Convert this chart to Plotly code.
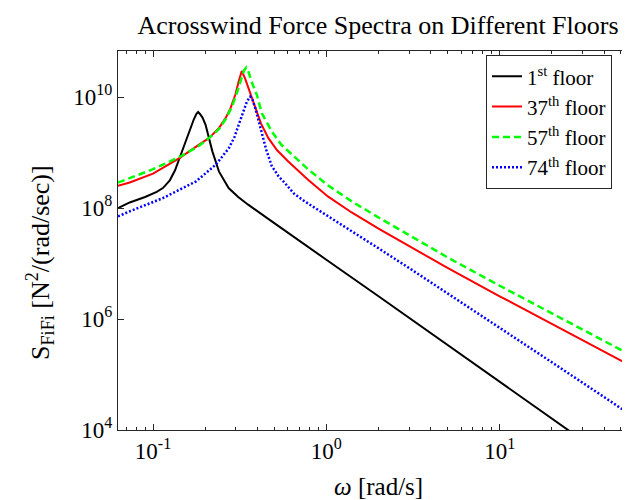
import math
import plotly.graph_objects as go

# ---- data ----
w_1 = [0.0628, 0.0734, 0.09, 0.105, 0.114, 0.125, 0.134, 0.142, 0.152, 0.162, 0.172, 0.178, 0.182, 0.187,
       0.193, 0.201, 0.21, 0.22, 0.24, 0.273, 0.31, 0.354, 0.46, 0.56, 0.75, 1.0, 2.0, 5.0, 10, 25, 62.8]
s_1 = [1.00e8, 1.26e8, 1.58e8, 1.95e8, 2.29e8, 3.16e8, 4.79e8, 7.94e8, 1.35e9, 2.40e9, 3.98e9, 5.01e9, 5.37e9, 4.90e9,
       4.27e9, 3.16e9, 1.78e9, 1.05e9, 4.57e8, 2.29e8, 1.58e8, 1.15e8, 6.46e7, 4.17e7, 2.19e7, 1.17e7, 2.57e6, 3.39e5, 7.41e4, 9.77e3, 1.29e3]

w_37 = [0.0628, 0.0734, 0.1, 0.142, 0.18, 0.21, 0.24, 0.262, 0.28, 0.299, 0.312, 0.325, 0.34, 0.356, 0.372, 0.389,
        0.42, 0.463, 0.52, 0.603, 0.784, 1.02, 1.4, 2, 3, 5, 10, 20, 40, 62.8]
s_37 = [2.51e8, 2.88e8, 4.17e8, 7.94e8, 1.32e9, 1.82e9, 2.75e9, 4.17e9, 6.31e9, 1.12e10, 1.91e10, 2.95e10, 2.14e10, 1.45e10, 9.55e9, 6.31e9,
        3.31e9, 1.82e9, 1.10e9, 6.92e8, 3.24e8, 1.62e8, 8.32e7, 4.27e7, 2.04e7, 8.32e6, 2.57e6, 8.13e5, 2.57e5, 1.23e5]

w_57 = [0.0628, 0.0734, 0.1, 0.142, 0.18, 0.21, 0.24, 0.262, 0.285, 0.305, 0.322, 0.335, 0.345, 0.356, 0.37, 0.385,
        0.397, 0.424, 0.484, 0.55, 0.629, 0.784, 1.02, 1.4, 2, 3, 5, 10, 20, 40, 62.8]
s_57 = [2.88e8, 3.47e8, 5.01e8, 8.32e8, 1.26e9, 1.82e9, 2.63e9, 3.98e9, 6.61e9, 1.20e10, 2.09e10, 3.02e10, 3.39e10, 2.82e10, 1.91e10, 1.38e10,
        1.10e10, 5.13e9, 2.40e9, 1.38e9, 9.55e8, 5.01e8, 2.57e8, 1.32e8, 6.76e7, 3.24e7, 1.29e7, 3.98e6, 1.26e6, 3.98e5, 1.91e5]

w_74 = [0.0628, 0.0734, 0.114, 0.177, 0.23, 0.274, 0.295, 0.312, 0.33, 0.348, 0.364, 0.375, 0.389, 0.405, 0.424,
        0.45, 0.484, 0.53, 0.577, 0.65, 0.75, 1.02, 1.4, 2, 3, 5, 10, 20, 40, 62.8]
s_74 = [7.08e7, 8.71e7, 1.51e8, 3.02e8, 6.03e8, 1.20e9, 1.91e9, 3.16e9, 5.25e9, 8.32e9, 1.02e10, 8.91e9, 6.31e9, 3.98e9, 2.40e9,
        1.12e9, 5.75e8, 3.72e8, 2.82e8, 1.82e8, 1.32e8, 7.24e7, 3.85e7, 1.88e7, 8.32e6, 2.92e6, 7.00e5, 1.66e5, 3.93e4, 1.53e4]

series_names = ["1<sup>st</sup> floor", "37<sup>th</sup> floor", "57<sup>th</sup> floor", "74<sup>th</sup> floor"]

x_tickvals = [0.1, 1, 10]
x_ticktext = ["10<sup>-1</sup>", "10<sup>0</sup>", "10<sup>1</sup>"]
x_minor = [0.07, 0.08, 0.09, 0.2, 0.3, 0.4, 0.5, 0.6, 0.7, 0.8, 0.9,
           2, 3, 4, 5, 6, 7, 8, 9, 20, 30, 40, 50, 60]
y_tickvals = [1e4, 1e6, 1e8, 1e10]
y_ticktext = ["10<sup>4</sup>", "10<sup>6</sup>", "10<sup>8</sup>", "10<sup>10</sup>"]

x_min, x_max = 0.0628, 62.8
y_min_exp, y_max_exp = 4, 10.83

FONT = "Liberation Serif, Times New Roman, serif"
AX = "#262626"

styles = [
    dict(color="#000000", width=2),
    dict(color="#ff0000", width=2),
    dict(color="#00ff00", width=2.5, dash="7px,4px"),
    dict(color="#0000ff", width=2.5, dash="2px,2px"),
]
xs = [w_1, w_37, w_57, w_74]
ys = [s_1, s_37, s_57, s_74]

fig = go.Figure()
for i in range(4):
    fig.add_trace(go.Scatter(x=xs[i], y=ys[i], mode="lines", name=series_names[i],
                             legendgroup=f"g{i}", line=styles[i]))

fig.update_layout(
    width=630, height=500,
    margin=dict(l=110, r=0, t=43, b=78),
    plot_bgcolor="white", paper_bgcolor="white",
    font=dict(family=FONT, size=23, color="black"),
    title=dict(text="Acrosswind Force Spectra on Different Floors",
               x=0.5, xref="paper", xanchor="center",
               y=1 - 17 / 500, yref="container", yanchor="middle",
               font=dict(family=FONT, size=26, color="black")),
    showlegend=True,
    legend=dict(x=(478 - 110) / 520, xanchor="left", y=0.989, yanchor="top",
                bordercolor=AX, borderwidth=1, bgcolor="white",
                tracegroupgap=0,
                font=dict(family=FONT, size=21, color="black")),
    xaxis=dict(type="log", range=[math.log10(x_min), math.log10(x_max)],
               tickmode="array", tickvals=x_tickvals, ticktext=x_ticktext,
               ticks="inside", ticklen=6, tickcolor=AX, tickwidth=1,
               showline=True, linecolor=AX, linewidth=1, mirror="ticks",
               showgrid=False, zeroline=False,
               minor=dict(tickmode="array", tickvals=x_minor, ticks="inside",
                          ticklen=3, tickcolor=AX, showgrid=False),
               tickfont=dict(family=FONT, size=23, color="black")),
    yaxis=dict(type="log", range=[y_min_exp, y_max_exp],
               tickmode="array", tickvals=y_tickvals, ticktext=y_ticktext,
               ticks="inside", ticklen=6, tickcolor=AX, tickwidth=1,
               showline=True, linecolor=AX, linewidth=1, mirror=False,
               showgrid=False, zeroline=False,
               tickfont=dict(family=FONT, size=23, color="black")),
    annotations=[
        dict(text="<i>ω</i> [rad/s]", xref="paper", yref="paper",
             x=0.5, y=(422 - 478) / 379, xanchor="center", yanchor="middle",
             showarrow=False, font=dict(family=FONT, size=25, color="black")),
        dict(text="S<sub>FiFi</sub> [N<sup>2</sup>/(rad/sec)]", xref="paper", yref="paper",
             x=(32 - 110) / 520, y=(422 - 255) / 379, xanchor="center", yanchor="middle",
             textangle=-90, showarrow=False,
             font=dict(family=FONT, size=26, color="black")),
    ],
)

fig.write_html("out.html")
